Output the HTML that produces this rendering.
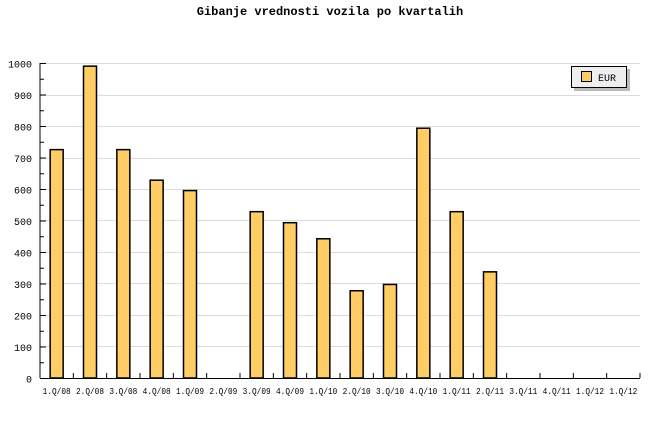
<!DOCTYPE html>
<html><head><meta charset="utf-8"><style>body{margin:0;background:#fff}</style></head>
<body>
<svg width="660" height="440" xmlns="http://www.w3.org/2000/svg" font-family="Liberation Mono, DejaVu Sans Mono, monospace">
<rect width="660" height="440" fill="#fff"/>
<text x="330" y="15" text-anchor="middle" font-size="12" font-weight="bold">Gibanje vrednosti vozila po kvartalih</text>
<g stroke="#dcdcdc" stroke-width="1">
<line x1="40" x2="640" y1="63.5" y2="63.5"/>
<line x1="40" x2="640" y1="95.5" y2="95.5"/>
<line x1="40" x2="640" y1="126.5" y2="126.5"/>
<line x1="40" x2="640" y1="158.5" y2="158.5"/>
<line x1="40" x2="640" y1="189.5" y2="189.5"/>
<line x1="40" x2="640" y1="220.5" y2="220.5"/>
<line x1="40" x2="640" y1="252.5" y2="252.5"/>
<line x1="40" x2="640" y1="283.5" y2="283.5"/>
<line x1="40" x2="640" y1="315.5" y2="315.5"/>
<line x1="40" x2="640" y1="346.5" y2="346.5"/>
</g>
<g id="bars" fill="#ffcc66" stroke="#000" stroke-width="1.5"></g>
<g id="ax" stroke="#000" stroke-width="1"></g>
<g id="lab" font-size="10" fill="#000"></g>
<rect x="574" y="69" width="56" height="22" fill="#bbb"/>
<rect x="571.5" y="66.5" width="55" height="21" fill="#eee" stroke="#000"/>
<rect x="581.5" y="71.5" width="10" height="10" fill="#ffcc66" stroke="#000"/>
<text x="598" y="81" font-size="10">EUR</text>
<script>
var ns="http://www.w3.org/2000/svg";
function el(p,t,a,txt){var e=document.createElementNS(ns,t);for(var k in a)e.setAttribute(k,a[k]);if(txt)e.textContent=txt;document.getElementById(p).appendChild(e);}
var vals=[725,990,725,628,595,0,528,493,442,277,297,793,528,337,0,0,0,0];
var labs=["1.Q/08","2.Q/08","3.Q/08","4.Q/08","1.Q/09","2.Q/09","3.Q/09","4.Q/09","1.Q/10","2.Q/10","3.Q/10","4.Q/10","1.Q/11","2.Q/11","3.Q/11","4.Q/11","1.Q/12","1.Q/12"];
var w=600/18;
for(var i=0;i<18;i++){
 var c=40+w*(i+0.5);
 if(vals[i]>0){var h=vals[i]*0.315;el("bars","rect",{x:c-6.5,y:378-h,width:13,height:h});}
 el("lab","text",{x:c-14,y:394,"font-size":"9",textLength:"28",lengthAdjust:"spacingAndGlyphs"},labs[i]);
 el("ax","line",{x1:40+w*(i+1),x2:40+w*(i+1),y1:373,y2:378});
}
el("ax","line",{x1:40,x2:40,y1:63,y2:378});
el("ax","line",{x1:40,x2:640,y1:378.5,y2:378.5});
for(var v=0;v<=1000;v+=50){
 var y=378.5-v*0.315;
 el("ax","line",{x1:40,x2:v%100==0?46:44,y1:y,y2:y});
 if(v%100==0)el("lab","text",{x:32,y:y+4,"text-anchor":"end"},String(v));
}
</script>
</svg>
</body></html>
